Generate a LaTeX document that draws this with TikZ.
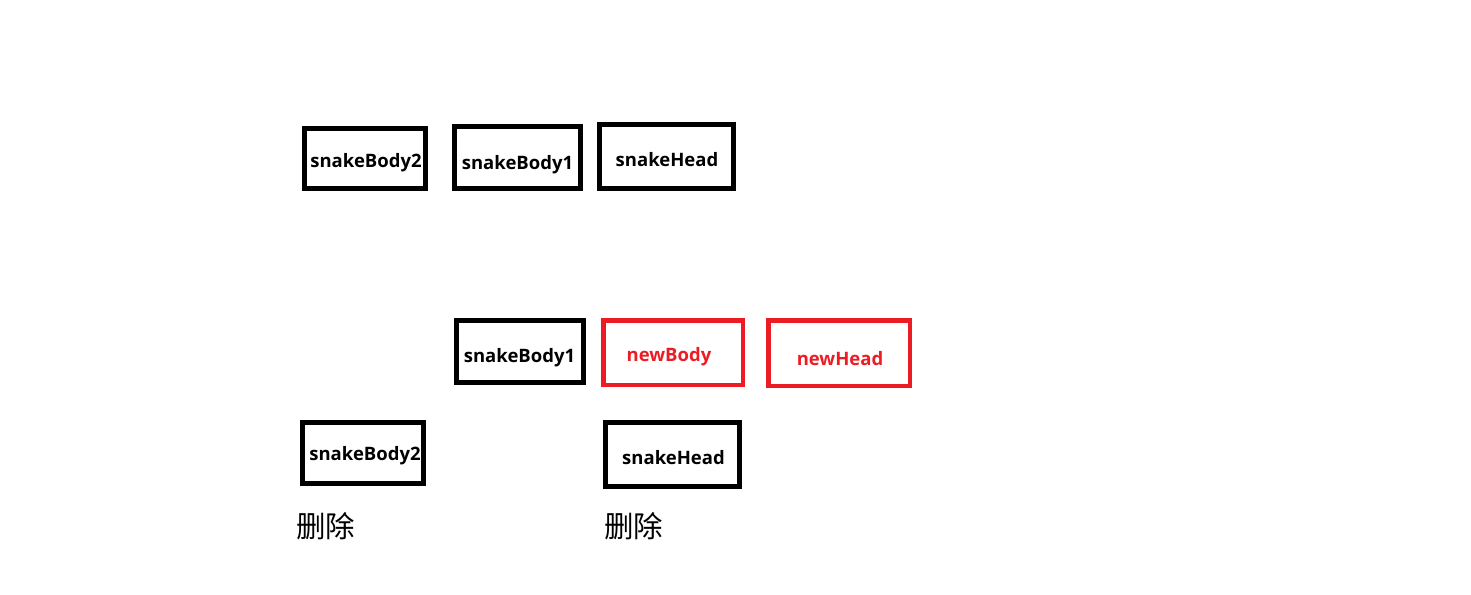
\documentclass[tikz,border=0pt]{standalone}
\usepackage{fontspec}
\setmainfont{Open Sans}
\newfontfamily\cjk{Noto Sans CJK SC}
\definecolor{paintred}{HTML}{ED1C24}
\begin{document}
\begin{tikzpicture}[x=1pt,y=-1pt,
  lbl/.style={inner sep=0pt,text depth=0pt,font=\fontsize{18.5}{20}\selectfont\bfseries},
  redlbl/.style={lbl,text=paintred},
  blk/.style={draw=black,line width=5pt,inner sep=0pt},
  redbox/.style={draw=paintred,line width=4.5pt,inner sep=0pt},
  del/.style={anchor=west,inner sep=0pt,font=\cjk\fontsize{29.5}{31}\selectfont}]
\useasboundingbox[fill=white] (0,0) rectangle (1471,594);
% top row
\node[blk,minimum width=121pt,minimum height=60pt] (tb2) at (365,158.5) {};
\node[lbl] (tb2t) at ([shift={(1,1.5)}]tb2.center) {snakeBody2};
\node[blk,minimum width=126pt,minimum height=62pt] (tb1) at (517.5,157.5) {};
\node[lbl] (tb1t) at ([shift={(0,4.5)}]tb1.center) {snakeBody1};
\node[blk,minimum width=134pt,minimum height=64pt] (th) at (666.5,156.5) {};
\node[lbl] (tht) at ([shift={(0.5,2.5)}]th.center) {snakeHead};
% middle row
\node[blk,minimum width=127pt,minimum height=62pt] (mb1) at (520,351.5) {};
\node[lbl] (mb1t) at ([shift={(-0.5,3.5)}]mb1.center) {snakeBody1};
\node[redbox,minimum width=139.5pt,minimum height=64.5pt] (nb) at (673,352.5) {};
\node[redlbl] (nbt) at ([shift={(-4,1.5)}]nb.center) {newBody};
\node[redbox,minimum width=141.5pt,minimum height=65.5pt] (nh) at (839,353) {};
\node[redlbl] (nht) at ([shift={(1,5)}]nh.center) {newHead};
% bottom row
\node[blk,minimum width=121pt,minimum height=61pt] (bb2) at (363,453) {};
\node[lbl] (bb2t) at ([shift={(2,0)}]bb2.center) {snakeBody2};
\node[blk,minimum width=134pt,minimum height=64pt] (bh) at (672.5,454.5) {};
\node[lbl] (bht) at ([shift={(1,2.5)}]bh.center) {snakeHead};
% labels
\node[del] (d1) at (296,526) {删除};
\node[del] (d2) at (604,526) {删除};
\end{tikzpicture}
\end{document}
